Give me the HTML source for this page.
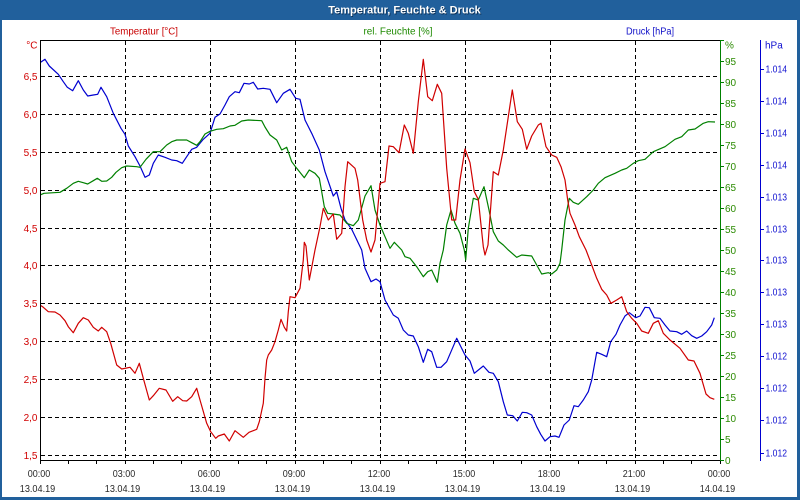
<!DOCTYPE html>
<html><head><meta charset="utf-8"><style>
html,body{margin:0;padding:0;background:#fff;width:800px;height:500px;overflow:hidden}
svg{display:block}
text{font-family:"Liberation Sans",Arial,sans-serif;font-size:10px}
</style></head><body>
<svg width="800" height="500" viewBox="0 0 800 500" xmlns="http://www.w3.org/2000/svg">
<rect x="0" y="0" width="800" height="500" fill="#21609c"/>
<rect x="2" y="20" width="795" height="477" fill="#ffffff"/>
<text x="404.5" y="13.5" text-anchor="middle" fill="#0b2f55" style="font-weight:bold;font-size:11px" transform="translate(0.8,0.8)">Temperatur, Feuchte &amp; Druck</text>
<text x="404.5" y="13.5" text-anchor="middle" fill="#ffffff" style="font-weight:bold;font-size:11px">Temperatur, Feuchte &amp; Druck</text>

<!-- series headers -->
<text x="144" y="34.5" text-anchor="middle" fill="#c80000" textLength="68" lengthAdjust="spacingAndGlyphs">Temperatur [°C]</text>
<text x="398" y="34.5" text-anchor="middle" fill="#1e8a00" textLength="69" lengthAdjust="spacingAndGlyphs">rel. Feuchte [%]</text>
<text x="650" y="34.5" text-anchor="middle" fill="#1010c8" textLength="48" lengthAdjust="spacingAndGlyphs">Druck [hPa]</text>

<!-- grid -->
<g stroke="#000" stroke-width="1" stroke-dasharray="4,3" fill="none" shape-rendering="crispEdges">
<path d="M41 76.5H720M41 114.5H720M41 152.5H720M41 190.5H720M41 228.5H720M41 265.5H720M41 303.5H720M41 341.5H720M41 379.5H720M41 417.5H720M41 455.5H720"/>
<path d="M125.5 41V460M210.5 41V460M295.5 41V460M380.5 41V460M465.5 41V460M550.5 41V460M635.5 41V460"/>
</g>

<!-- series -->
<defs><clipPath id="pc"><rect x="41" y="41" width="679" height="419"/></clipPath></defs>
<g clip-path="url(#pc)" fill="none" stroke-width="1.2" stroke-linejoin="round">
<polyline stroke="#0000d0" points="40,62.7 45,59.3 49.3,66 58.3,74.3 63.3,81.7 67.3,87.3 72.7,90.7 78.3,80.7 83.3,90 87.7,96 93.3,95 97.7,94.3 101,87.3 106.7,96.7 113.3,113.3 121,128.3 125,134.3 128.3,146 135,156.7 140,166 145,177.3 149.3,175 153.3,163.3 158.3,155 165,157.3 171.7,160 176.7,160.7 182.3,163.3 186.7,156.7 191.7,149.3 196.7,147.3 203.3,139.3 210,133.3 215,117.3 220,114 225,105 229.3,96.7 235,91.7 239.3,92.7 244,83.3 249.3,84 253.3,82.3 257.7,89 263.3,88.3 270,89.3 276.7,102.7 283.3,93.3 290,89.3 295.7,98.3 300,99.3 305,120 311.7,133.3 319.3,150 325,171.7 333.3,196 336.7,191.7 341,208.3 345,220 351.7,229.3 361.7,250 365,268.3 371,281.7 376,279 380,281.7 385,300 393.3,315 398.3,318.3 403.3,330 408.3,335 413.3,336 418.3,346.7 423.3,362.3 427.7,349.3 431.7,351.7 436.7,367.3 441,367.3 446.7,361.7 456.7,338.3 465,355 470,361 474.3,373.3 483.3,366 489,372.3 493.3,373.3 498.3,381.7 503.3,401.7 507.3,415 512.7,415.7 517.3,421 522.3,412.3 526.7,412.7 531.7,415 536.7,426.7 540.7,434.3 545,441 550,436.7 555,436 559,437.3 564,425 569.3,420 574,405.7 578.3,406.7 583.3,400 588.3,391.7 591.7,380 596.7,352.3 601.7,354.3 606.7,356.7 610.7,341.7 616,334.3 620,325 625,316 629.3,312.7 635.7,317.7 640,316 645,307.3 649.3,307.7 654.3,317.7 660,318.3 665,325 670,331 676.7,331.7 681.7,334.3 686.7,331 691.7,335.7 696.7,338.3 701.7,336 706.7,331.7 711.7,325 714.3,317.7"/>
<polyline stroke="#008000" points="40,195 44,193.3 60,192.3 66.7,188.3 73.3,183.3 78.3,181.3 83.3,182.7 87.7,184 93.3,180.7 97.3,178.3 101.7,181.3 106.7,181 111.7,177.3 116,172.3 121.7,167.7 126.7,166 136.7,166.7 140,167.3 146,159.3 153.3,151.7 160,151.7 166.7,145 171.7,141.7 176.7,140 186.7,140 191.7,142.7 196.7,145.3 200,141.7 205,134 210,131.3 216.7,129.3 223.3,128.7 230,126 235,125.3 241.7,121 248.3,120 261.7,120.7 265,127 270,135 276.7,140 281.7,150 286.7,147.3 291.7,161.7 296.7,168.3 304.3,177.7 309.3,170 315,173.3 319.3,178.3 321.7,191.7 324.3,206.7 327.7,213.3 333.3,214 340,215 346.7,223.3 353.3,225.7 358.3,220 365,196 371,185.7 375,210 380,225 385,236.7 390,248.3 394.3,242.3 401.7,250 405,256.7 410,258.3 416.7,266.7 423.3,276.7 427.7,271.7 431.7,270 437.3,282.3 440,263.3 443.3,250 446.7,225 451,210 455,223.3 460,233.3 464.3,250 465.7,260 468.3,228.3 473.3,198.3 478.3,200 484,186.7 489,210 493.3,231.7 498.3,241 503.3,245 508.3,250 516.7,257.3 521.7,255 531.7,256 536.7,265 541.7,274 548.3,272.7 551.7,274 556.7,270 560,263.3 561.7,250 565,220 569.3,198.3 573.3,202.3 578.3,204.3 586.7,196.7 593.3,190 598.3,183.3 605,177.7 615,173.3 621.7,170 626.7,168.3 633.3,163.3 638.3,160.7 645,159.3 653.3,151.7 665,146.7 675,139.3 681.7,136.7 688.3,130 695,129 703.3,123.3 708.3,121.7 715,122"/>
<polyline stroke="#d00000" points="40,305 43.3,307.3 48.3,311.7 55,312 60,315 65,320.7 68.3,326.7 73.3,332.7 78.3,323.3 83.3,317.7 88.3,320 93.3,327.3 98.3,331 101.7,327.3 106.7,331.7 110.7,343.3 116.7,365 121.7,369 130,367.3 135,373.3 139.3,363.3 143.3,378.3 149.3,400 153.3,395.7 159.3,388.3 166,390 172.7,401.3 177.7,396.7 182.7,400.7 186.7,401 191.7,396.7 196.7,388.3 200,400 206.7,423.3 210.7,431.7 215.7,438.3 218.3,436 224.3,434 229.3,441 235,430.7 243.3,437.3 249,432.3 256.7,429.3 259.3,421.7 263.3,403.3 265,378.3 266.7,360 268.3,355 271.7,350 275,341.7 278.3,330 281,319.3 284.3,327.3 286.7,331 288.3,311.7 290,296.7 295,297.7 300,288.3 301.7,273.3 303.3,260 304.3,242.3 306,246 309.3,280 315,250 320,226.7 323.3,208.3 328.3,220 333.3,214 336.7,239.3 341.7,233.3 345,186.7 347.7,161.7 355,168.3 357.7,180 362.7,220 366.7,240 371,252 375,240 380,183.3 385,181.7 389,146 393.3,146.7 399,152.7 404.3,125 408.3,133.3 413.3,153.3 418.3,101.7 423.3,59.3 427.7,96.7 432.3,100.7 437.3,84.3 441.7,93.3 446.7,168.3 451.7,220 455.7,220 460,180 465,149 470,162.7 474.3,191.7 478.3,199.3 483.3,246.7 485,255 488,245 490,216.7 493.3,171.7 498.3,175 503.3,150 508.3,116.7 512.3,90 517.3,121.7 522.3,129.3 526.7,149.3 531.7,136 538.3,125 541,123.3 546,146.7 551.7,155 556.7,157.3 561,166.7 565,180 567.7,200 570,213.3 575,225 579.3,236.7 586,250 591.7,265 596.7,278.3 601.7,289.3 606.7,295 611,303.3 616.7,300 621.7,296.7 626.7,311.7 631.7,318.3 636.7,323.3 641.7,331 648.3,333.3 653.3,323.3 658.3,320.7 663.3,333.3 670,340 680,348.3 688.3,360 694,361 700,373.3 706,394 710,397.7 714.3,399.3"/>
</g>

<!-- axes frame -->
<g shape-rendering="crispEdges" fill="none" stroke-width="1">
<path stroke="#000" d="M40.5 40V461M40 40.5H720M40 460.5H721"/>
<path stroke="#000" d="M40.5 460V464M68.5 460V464M96.5 460V464M125.5 460V464M153.5 460V464M181.5 460V464M210.5 460V464M238.5 460V464M266.5 460V464M295.5 460V464M323.5 460V464M351.5 460V464M380.5 460V464M408.5 460V464M436.5 460V464M465.5 460V464M493.5 460V464M521.5 460V464M550.5 460V464M578.5 460V464M606.5 460V464M635.5 460V464M663.5 460V464M691.5 460V464M720.5 460V464"/>
<path stroke="#008000" d="M720.5 40V461"/>
<path stroke="#008000" d="M721 460.5H724M721 439.5H724M721 418.5H724M721 397.5H724M721 376.5H724M721 355.5H724M721 334.5H724M721 313.5H724M721 292.5H724M721 271.5H724M721 250.5H724M721 229.5H724M721 208.5H724M721 187.5H724M721 166.5H724M721 145.5H724M721 124.5H724M721 103.5H724M721 82.5H724M721 61.5H724M721 40.5H724"/>
<path stroke="#0000d0" d="M760.5 40V461"/>
<path stroke="#0000d0" d="M761 69.5H764M761 101.5H764M761 133.5H764M761 165.5H764M761 197.5H764M761 229.5H764M761 260.5H764M761 292.5H764M761 324.5H764M761 356.5H764M761 388.5H764M761 420.5H764M761 453.5H764"/>
</g>

<!-- left labels -->
<g fill="#d00000" text-anchor="end">
<text x="37.5" y="48.5">°C</text>
<text x="37.5" y="80">6,5</text>
<text x="37.5" y="118">6,0</text>
<text x="37.5" y="156">5,5</text>
<text x="37.5" y="194">5,0</text>
<text x="37.5" y="232">4,5</text>
<text x="37.5" y="269">4,0</text>
<text x="37.5" y="307">3,5</text>
<text x="37.5" y="345">3,0</text>
<text x="37.5" y="383">2,5</text>
<text x="37.5" y="421">2,0</text>
<text x="37.5" y="459">1,5</text>
</g>

<!-- humidity labels -->
<g fill="#2a8a00">
<text x="725" y="48.5">%</text>
<text x="725" y="65">95</text>
<text x="725" y="86">90</text>
<text x="725" y="107">85</text>
<text x="725" y="128">80</text>
<text x="725" y="149">75</text>
<text x="725" y="170">70</text>
<text x="725" y="191">65</text>
<text x="725" y="212">60</text>
<text x="725" y="233">55</text>
<text x="725" y="254">50</text>
<text x="725" y="275">45</text>
<text x="725" y="296">40</text>
<text x="725" y="317">35</text>
<text x="725" y="338">30</text>
<text x="725" y="359">25</text>
<text x="725" y="380">20</text>
<text x="725" y="401">15</text>
<text x="725" y="422">10</text>
<text x="725" y="443">5</text>
<text x="725" y="464">0</text>
</g>

<!-- pressure labels -->
<g fill="#1010d0">
<text x="765" y="48.5">hPa</text>
<text x="765.5" y="72.5" textLength="21.5" lengthAdjust="spacingAndGlyphs">1.014</text>
<text x="765.5" y="104.5" textLength="21.5" lengthAdjust="spacingAndGlyphs">1.014</text>
<text x="765.5" y="136.5" textLength="21.5" lengthAdjust="spacingAndGlyphs">1.014</text>
<text x="765.5" y="168.5" textLength="21.5" lengthAdjust="spacingAndGlyphs">1.014</text>
<text x="765.5" y="200.5" textLength="21.5" lengthAdjust="spacingAndGlyphs">1.013</text>
<text x="765.5" y="232.5" textLength="21.5" lengthAdjust="spacingAndGlyphs">1.013</text>
<text x="765.5" y="263.5" textLength="21.5" lengthAdjust="spacingAndGlyphs">1.013</text>
<text x="765.5" y="295.5" textLength="21.5" lengthAdjust="spacingAndGlyphs">1.013</text>
<text x="765.5" y="327.5" textLength="21.5" lengthAdjust="spacingAndGlyphs">1.013</text>
<text x="765.5" y="359.5" textLength="21.5" lengthAdjust="spacingAndGlyphs">1.012</text>
<text x="765.5" y="391.5" textLength="21.5" lengthAdjust="spacingAndGlyphs">1.012</text>
<text x="765.5" y="423.5" textLength="21.5" lengthAdjust="spacingAndGlyphs">1.012</text>
<text x="765.5" y="456.5" textLength="21.5" lengthAdjust="spacingAndGlyphs">1.012</text>
</g>

<!-- bottom labels -->
<g fill="#2a2a2a" text-anchor="middle">
<text x="39" y="477" textLength="22.5" lengthAdjust="spacingAndGlyphs">00:00</text>
<text x="124" y="477" textLength="22.5" lengthAdjust="spacingAndGlyphs">03:00</text>
<text x="209" y="477" textLength="22.5" lengthAdjust="spacingAndGlyphs">06:00</text>
<text x="294" y="477" textLength="22.5" lengthAdjust="spacingAndGlyphs">09:00</text>
<text x="379" y="477" textLength="22.5" lengthAdjust="spacingAndGlyphs">12:00</text>
<text x="464" y="477" textLength="22.5" lengthAdjust="spacingAndGlyphs">15:00</text>
<text x="549" y="477" textLength="22.5" lengthAdjust="spacingAndGlyphs">18:00</text>
<text x="634" y="477" textLength="22.5" lengthAdjust="spacingAndGlyphs">21:00</text>
<text x="719" y="477" textLength="22.5" lengthAdjust="spacingAndGlyphs">00:00</text>
<text x="37.5" y="492" textLength="35.5" lengthAdjust="spacingAndGlyphs">13.04.19</text>
<text x="122.5" y="492" textLength="35.5" lengthAdjust="spacingAndGlyphs">13.04.19</text>
<text x="207.5" y="492" textLength="35.5" lengthAdjust="spacingAndGlyphs">13.04.19</text>
<text x="292.5" y="492" textLength="35.5" lengthAdjust="spacingAndGlyphs">13.04.19</text>
<text x="377.5" y="492" textLength="35.5" lengthAdjust="spacingAndGlyphs">13.04.19</text>
<text x="462.5" y="492" textLength="35.5" lengthAdjust="spacingAndGlyphs">13.04.19</text>
<text x="547.5" y="492" textLength="35.5" lengthAdjust="spacingAndGlyphs">13.04.19</text>
<text x="632.5" y="492" textLength="35.5" lengthAdjust="spacingAndGlyphs">13.04.19</text>
<text x="717.5" y="492" textLength="35.5" lengthAdjust="spacingAndGlyphs">14.04.19</text>
</g>
</svg>
</body></html>
